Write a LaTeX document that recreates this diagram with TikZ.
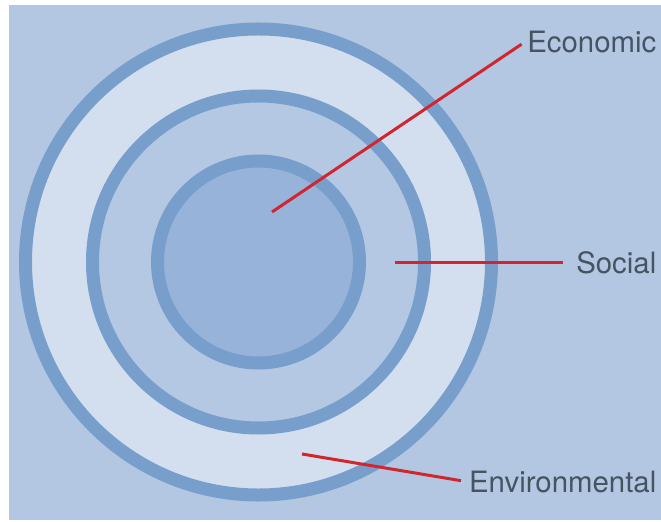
\documentclass[tikz,border=0pt]{standalone}
\usepackage{fontspec}
\setmainfont{TeX Gyre Heros}
\definecolor{bgblue}{HTML}{B3C7E3}
\definecolor{ringblue}{HTML}{789FCC}
\definecolor{paleblue}{HTML}{D3DFEF}
\definecolor{midblue}{HTML}{B4C8E4}
\definecolor{coreblue}{HTML}{97B3DA}
\definecolor{linered}{HTML}{D2262E}
\definecolor{labelgrey}{HTML}{465462}
\tikzset{
  ringnode/.style={circle, draw=ringblue, line width=13bp, inner sep=0pt, outer sep=0pt},
  leader/.style={draw=linered, line width=3bp},
  lbl/.style={text=labelgrey, font=\fontsize{29.5}{32}\selectfont, anchor=base east, inner sep=3bp}
}
\begin{document}
\begin{tikzpicture}[x=1bp,y=-1bp]
\useasboundingbox (0,0) rectangle (661,522);
\fill[white] (0,0) rectangle (661,522);
\fill[bgblue] (9,5) rectangle (661,520);
\node[ringnode, fill=paleblue, minimum size=466bp] (outer) at (258.5,262) {};
\node[ringnode, fill=midblue, minimum size=332bp] (middle) at (258.5,262) {};
\node[ringnode, fill=coreblue, minimum size=202bp] (inner) at (258.5,262) {};
\node[lbl] (econ) at (659.5,53) {Economic};
\node[lbl] (soc) at (659.5,273) {Social};
\node[lbl] (env) at (659.5,492) {Environmental};
\coordinate (e1) at (272,212);
\coordinate (s1) at (395,263);
\coordinate (v1) at (302,454);
\draw[leader, shorten >=3bp] (e1) -- (econ.west);
\draw[leader, shorten >=10bp] (s1 |- soc.west) -- (soc.west);
\draw[leader, shorten >=5bp] (v1) -- (env.west);
\end{tikzpicture}
\end{document}
